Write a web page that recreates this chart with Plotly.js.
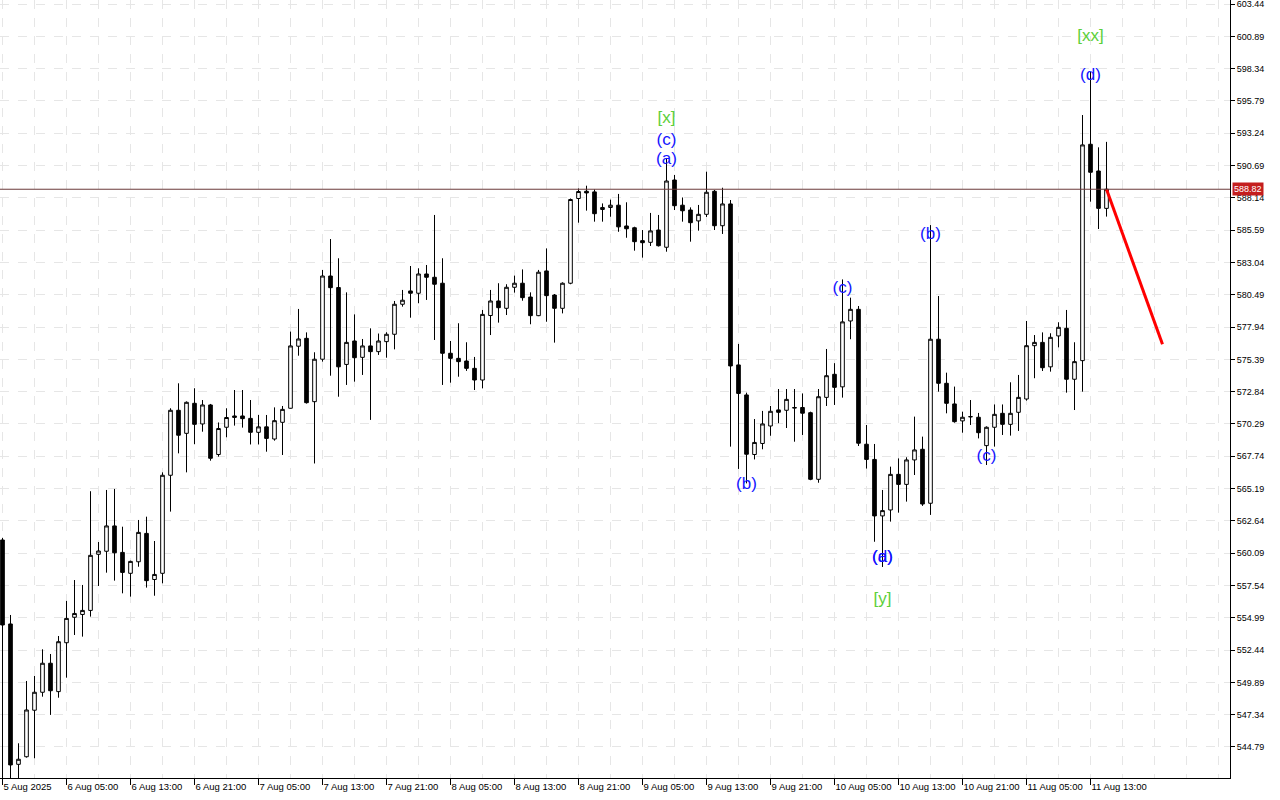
<!DOCTYPE html>
<html><head><meta charset="utf-8">
<script src="https://cdn.plot.ly/plotly-3.0.1.min.js"></script>
<style>html,body{margin:0;padding:0;background:#fff}#chart{width:1280px;height:800px}</style>
</head><body><div id="chart"></div>
<script>
// Hourly bars, 5 Aug 2025 21:00 .. 11 Aug 2025 15:00
const openP = [561.13,554.50,543.42,544.02,547.69,549.11,551.40,549.16,553.02,555.03,555.25,555.57,560.00,560.24,562.24,560.15,558.50,559.41,561.65,558.01,
558.50,566.24,571.37,569.55,571.92,570.29,571.79,567.88,570.03,570.92,570.92,570.73,569.63,570.06,569.10,570.42,571.53,576.43,577.05,572.05,
575.40,581.97,581.06,574.99,576.84,575.55,576.45,576.00,576.79,577.37,579.74,580.79,580.61,582.13,581.87,581.40,575.87,575.47,575.26,574.68,
573.76,578.85,580.00,579.42,581.08,581.40,580.31,578.84,582.37,580.47,579.42,581.40,588.09,588.66,588.61,587.22,587.38,587.56,585.92,585.78,
584.76,584.63,585.60,584.24,589.55,587.56,587.18,586.32,586.84,588.66,585.94,587.66,574.95,572.58,567.88,568.75,570.13,571.40,571.37,571.54,
571.59,571.18,565.92,572.39,574.21,573.22,578.42,579.34,568.69,567.49,563.03,563.50,566.31,565.52,567.45,568.29,564.03,576.98,573.50,571.87,
570.53,570.85,570.82,568.58,570.03,571.13,570.26,571.21,572.26,576.47,576.73,574.80,577.24,577.84,573.82,575.29,592.37,590.26,587.31];
const highP = [561.30,555.21,545.08,550.00,550.40,552.50,552.13,553.55,556.32,557.97,557.58,564.98,560.97,565.08,565.16,562.18,559.50,562.71,562.97,561.05,
566.47,571.53,573.50,572.07,573.11,572.18,571.87,570.41,571.53,572.97,572.97,572.18,571.00,571.00,571.60,571.71,577.58,579.37,577.52,575.95,
582.45,584.89,583.37,580.68,578.94,577.00,577.84,577.43,577.53,580.00,580.87,582.76,582.58,582.84,586.79,583.37,576.84,578.24,576.74,575.58,
579.29,580.87,581.40,581.32,582.00,582.49,580.68,582.45,584.15,580.55,581.47,588.09,588.88,589.10,588.81,587.70,588.00,588.45,587.79,585.86,
585.60,586.95,586.79,591.29,589.95,588.17,587.39,587.58,590.21,588.76,588.94,587.97,576.61,572.76,570.68,571.32,571.71,573.05,573.05,573.05,
572.70,571.26,573.05,576.21,575.09,581.70,580.26,579.60,570.21,568.71,565.08,566.92,567.57,567.66,570.87,569.29,585.99,580.39,574.34,573.24,
571.26,572.18,571.16,570.10,571.83,571.83,573.58,574.16,578.42,577.31,577.52,577.45,578.32,579.29,576.74,594.68,598.08,592.13,592.56];
const lowP = [542.00,542.20,542.20,543.95,543.90,548.76,547.32,548.68,550.26,553.63,553.50,555.08,557.50,558.55,557.92,556.92,556.66,559.02,557.37,556.73,
557.71,563.37,567.97,566.47,568.69,569.68,567.39,567.71,569.24,570.16,570.00,568.67,568.67,568.10,568.97,567.84,571.50,575.68,571.90,567.17,
575.21,574.10,572.44,573.37,573.63,574.16,570.61,575.74,575.52,576.18,579.55,578.68,579.82,580.08,576.92,573.37,573.55,574.02,574.48,572.97,
573.10,577.31,578.29,578.89,580.66,580.02,578.16,578.80,578.36,576.71,579.02,581.32,586.18,587.13,586.26,586.26,586.65,585.46,584.99,583.97,
583.42,584.34,584.30,583.89,587.18,586.26,584.68,585.55,586.63,585.60,585.29,568.50,566.74,565.60,567.49,568.29,569.36,570.35,569.97,568.89,
569.42,565.85,565.65,571.71,571.79,572.37,576.98,568.55,566.77,560.99,559.00,562.58,563.29,564.16,566.26,563.82,563.11,572.84,571.13,570.39,
569.60,570.21,569.15,567.05,568.50,569.42,569.37,569.74,572.13,573.90,574.47,574.42,576.34,572.76,571.39,572.84,587.84,585.68,586.66];
const closeP = [554.42,543.37,543.82,547.71,549.11,551.40,549.23,553.10,554.94,555.33,555.57,559.92,560.26,562.24,560.12,558.57,559.44,561.73,557.92,558.41,
566.24,571.37,569.40,572.00,570.26,571.79,567.58,569.93,570.80,570.81,570.71,569.63,570.06,569.15,570.55,571.44,576.45,577.00,571.97,575.40,
581.97,581.05,574.80,576.73,575.52,576.45,576.00,576.84,577.37,579.74,580.06,580.61,582.13,581.87,581.32,575.87,575.47,575.21,574.68,573.76,
578.94,580.00,579.47,581.08,581.40,580.26,578.84,582.27,580.42,579.42,581.40,588.01,588.64,588.53,586.89,587.38,587.56,585.85,585.70,584.68,
584.60,585.53,584.36,589.47,587.52,587.12,586.18,586.84,588.58,585.94,587.66,574.87,572.70,567.90,568.83,570.29,571.29,571.21,572.23,571.59,
571.14,565.92,572.44,574.10,573.18,578.35,579.34,568.77,567.49,563.03,563.45,566.31,565.52,567.45,568.24,563.97,576.98,573.50,571.92,570.47,
570.82,570.87,569.60,570.03,571.05,570.26,571.13,572.39,576.47,576.73,574.73,577.13,577.92,573.82,575.21,592.32,590.16,587.31,588.82];

const timeTickIdx = [0,8,16,24,32,40,48,56,64,72,80,88,96,104,112,120,128,136];
const timeTickText = ["5 Aug 2025","6 Aug 05:00","6 Aug 13:00","6 Aug 21:00","7 Aug 05:00","7 Aug 13:00","7 Aug 21:00",
"8 Aug 05:00","8 Aug 13:00","8 Aug 21:00","9 Aug 05:00","9 Aug 13:00","9 Aug 21:00","10 Aug 05:00","10 Aug 13:00",
"10 Aug 21:00","11 Aug 05:00","11 Aug 13:00"];
const priceTicks = [544.79,547.34,549.89,552.44,554.99,557.54,560.09,562.64,565.19,567.74,570.29,572.84,575.39,577.94,
580.49,583.04,585.59,588.14,590.69,593.24,595.79,598.34,600.89,603.44];
const lastPrice = 588.82;

const forecastIdx = [138,145];
const forecastPrice = [588.82,576.58];

const waveText  = ["[x]","(c)","(a)","(b)","(c)","(a)","(d)","[y]","(b)","(c)","(d)","[xx]"];
const waveIdx   = [83,83,83,93,105,110,110,110,116,123,136,136];
const wavePrice = [594.37,592.63,591.13,565.47,580.95,559.71,559.71,556.39,585.21,567.68,597.76,600.84];
const waveColor = ["#5ccf3a","#1515ff","#1515ff","#1515ff","#1515ff","#1515ff","#1515ff","#5ccf3a","#1515ff","#1515ff","#1515ff","#5ccf3a"];

const idx = openP.map((_, i) => i);

const traces = [
  {type:'candlestick', x:idx, open:openP, high:highP, low:lowP, close:closeP,
   increasing:{line:{color:'#000000', width:1}, fillcolor:'#ffffff'},
   decreasing:{line:{color:'#000000', width:1}, fillcolor:'#000000'},
   whiskerwidth:0, hoverinfo:'skip', showlegend:false},
  {type:'scatter', mode:'lines', x:forecastIdx, y:forecastPrice,
   line:{color:'#ff0000', width:3}, hoverinfo:'skip', showlegend:false},
  {type:'scatter', mode:'text', x:waveIdx, y:wavePrice, text:waveText,
   textposition:'middle center',
   textfont:{family:'Liberation Sans, Arial, sans-serif', size:17, color:waveColor},
   hoverinfo:'skip', showlegend:false}
];

const gridCol = '#e6e6e6';
const layout = {
  width:1280, height:800,
  margin:{l:0, r:50, t:0, b:22},
  paper_bgcolor:'#ffffff', plot_bgcolor:'#ffffff',
  showlegend:false,
  boxgap:0.35,
  xaxis:{
    range:[-0.3125, 153.4375], tickmode:'array', tickvals:timeTickIdx, ticktext:timeTickText,
    tickangle:0, ticks:'outside', ticklen:6, tickcolor:'#000', tickwidth:1,
    ticklabelposition:'outside right', ticklabeloverflow:'allow',
    showline:true, linecolor:'#000', linewidth:1,
    showgrid:true, gridcolor:gridCol, griddash:'dash', zeroline:false,
    rangeslider:{visible:false}, fixedrange:true,
    tickfont:{family:'Liberation Sans, Arial, sans-serif', size:9.5, color:'#000'},
    minor:{tickmode:'linear', tick0:0, dtick:4, showgrid:true, gridcolor:gridCol, griddash:'dash', ticks:''}
  },
  yaxis:{
    side:'right', range:[542.34, 603.76], tickmode:'array', tickvals:priceTicks,
    ticktext:priceTicks.map(v => v.toFixed(2)), ticklabeloverflow:'allow',
    ticks:'outside', ticklen:4, tickcolor:'#000',
    showline:true, linecolor:'#000', linewidth:1,
    showgrid:true, gridcolor:gridCol, griddash:'dash', zeroline:false, fixedrange:true,
    tickfont:{family:'Liberation Sans, Arial, sans-serif', size:9, color:'#000'}
  },
  shapes:[
    {type:'line', xref:'paper', x0:0, x1:1, yref:'y', y0:lastPrice, y1:lastPrice,
     line:{color:'#6b3a3a', width:1}}
  ],
  annotations:[
    {xref:'paper', x:1, xanchor:'left', yref:'y', y:lastPrice, yanchor:'middle',
     text:lastPrice.toFixed(2), showarrow:false, bgcolor:'#c41e1e', borderpad:1, xshift:2,
     font:{family:'Liberation Sans, Arial, sans-serif', size:9, color:'#ffffff'}}
  ]
};

Plotly.newPlot('chart', traces, layout, {displayModeBar:false, staticPlot:true});
</script>
</body></html>
